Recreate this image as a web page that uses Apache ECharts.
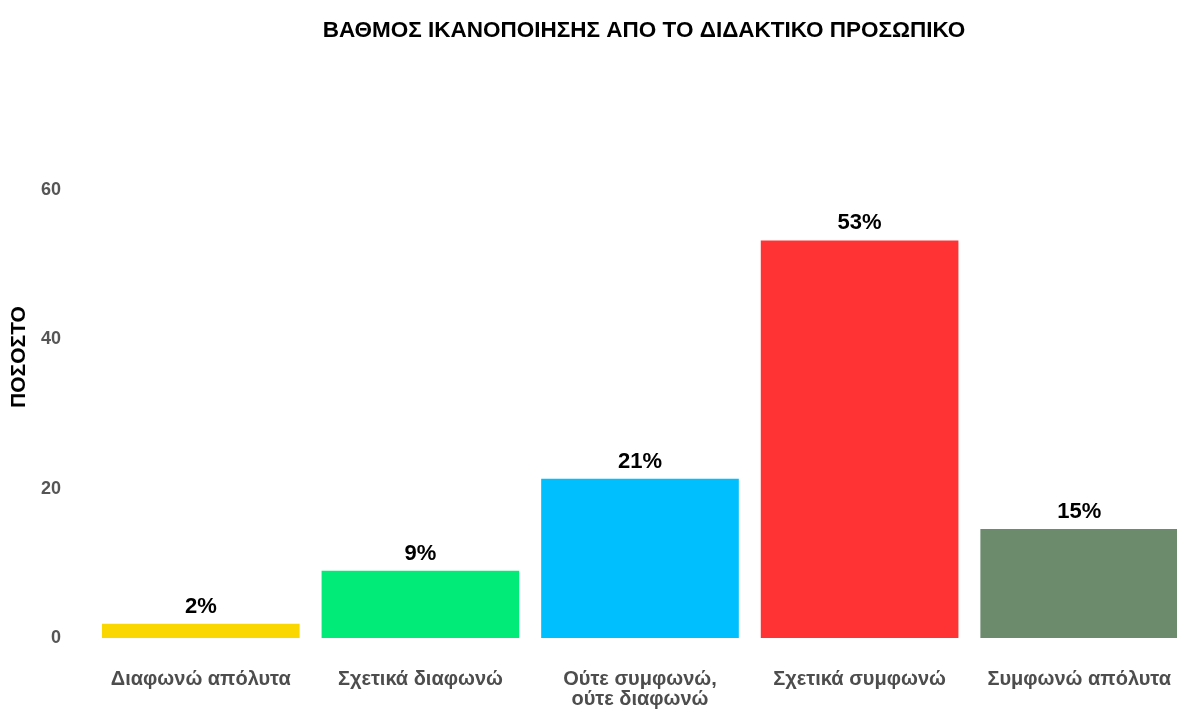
<!DOCTYPE html>
<html>
<head>
<meta charset="utf-8">
<script src="https://cdn.jsdelivr.net/npm/echarts@6/dist/echarts.min.js"></script>
<style>
html,body{margin:0;padding:0;background:#fff;}
#chart{width:1177px;height:713px;}
</style>
</head>
<body>
<div id="chart"></div>
<script>
const categories = ["Διαφωνώ απόλυτα", "Σχετικά διαφωνώ", "Ούτε συμφωνώ,\nούτε διαφωνώ", "Σχετικά συμφωνώ", "Συμφωνώ απόλυτα"];
const values = [1.9, 9.0, 21.3, 53.2, 14.6];
const valueLabels = ["2%", "9%", "21%", "53%", "15%"];
const colors = ["#FAD700", "#00EB78", "#00BFFF", "#FF3333", "#6C8A6C"];
const yTicks = [0, 20, 40, 60];

const FONT = "Liberation Sans, Arial, sans-serif";
const chart = echarts.init(document.getElementById('chart'));
chart.setOption({
  backgroundColor: '#fff',
  animation: false,
  title: {
    text: 'ΒΑΘΜΟΣ ΙΚΑΝΟΠΟΙΗΣΗΣ ΑΠΟ ΤΟ ΔΙΔΑΚΤΙΚΟ ΠΡΟΣΩΠΙΚΟ',
    left: 639, top: 14, textAlign: 'center',
    textStyle: {fontFamily: FONT, fontWeight: 'bold', fontSize: 22.5, color: '#000'}
  },
  grid: {left: 91, width: 1098, top: 76, bottom: 75, containLabel: false, outerBoundsMode: 'none'},
  xAxis: {
    type: 'category',
    data: categories,
    axisLine: {show: false},
    axisTick: {show: false},
    axisLabel: {fontFamily: FONT, fontSize: 20, fontWeight: 'bold', color: '#4d4d4d', margin: 31, lineHeight: 20, interval: 0}
  },
  yAxis: {
    type: 'value',
    min: 0, max: 75.2, interval: 20,
    name: 'ΠΟΣΟΣΤΟ',
    nameLocation: 'middle',
    nameGap: 61,
    nameTextStyle: {fontFamily: FONT, fontWeight: 'bold', fontSize: 21, color: '#000'},
    axisLine: {show: false},
    axisTick: {show: false},
    splitLine: {show: false},
    axisLabel: {fontFamily: FONT, fontSize: 18, fontWeight: 'bold', color: '#555', margin: 30, showMaxLabel: false,
      formatter: v => yTicks.includes(v) ? String(v) : ''}
  },
  series: [{
    type: 'bar',
    barCategoryGap: '10%',
    data: values.map((v, i) => ({value: v, itemStyle: {color: colors[i]}})),
    label: {
      show: true, position: 'top', distance: 6,
      fontFamily: FONT, fontWeight: 'bold', fontSize: 22, color: '#000',
      formatter: p => valueLabels[p.dataIndex]
    }
  }]
});
</script>
</body>
</html>
